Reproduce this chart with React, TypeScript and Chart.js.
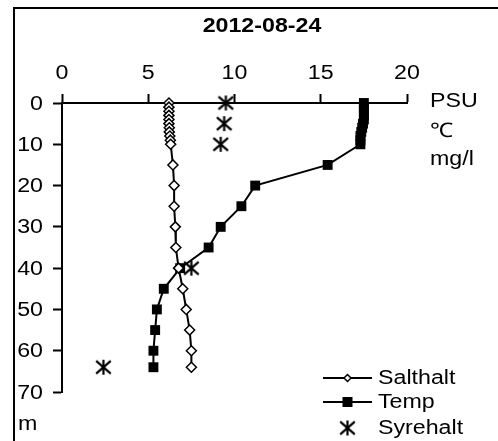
import React, { useEffect, useRef } from "react";
import { Chart, registerables } from "chart.js";

Chart.register(...registerables);

const TITLE = "2012-08-24";
const UNITS = ["PSU", "\u2103", "mg/l"];
const DEPTH_UNIT = "m";
const X_TICKS = [0, 5, 10, 15, 20];
const Y_TICKS = [0, 10, 20, 30, 40, 50, 60, 70];

const SERIES_NAMES = ["Salthalt", "Temp", "Syrehalt"];

const saltDepth = [0, 1, 2, 3, 4, 5, 6, 7, 8, 9, 10, 15, 20, 25, 30, 35, 40, 45, 50, 55, 60, 64];
const saltValues = [6.2, 6.2, 6.2, 6.2, 6.2, 6.2, 6.22, 6.22, 6.25, 6.28, 6.3, 6.43, 6.5, 6.5, 6.57, 6.6, 6.76, 7.0, 7.2, 7.4, 7.5, 7.5];

const tempDepth = [0, 1, 2, 3, 4, 5, 6, 7, 8, 9, 10, 15, 20, 25, 30, 35, 40, 45, 50, 55, 60, 64];
const tempValues = [17.5, 17.5, 17.5, 17.5, 17.5, 17.45, 17.4, 17.35, 17.3, 17.3, 17.3, 15.4, 11.2, 10.4, 9.2, 8.5, 6.85, 5.9, 5.5, 5.4, 5.3, 5.3];

const oxyDepth = [0, 5, 10, 40, 64];
const oxyValues = [9.5, 9.4, 9.2, 7.5, 2.4];

const FONT = '"Liberation Sans", Arial, sans-serif';
const SX = 1.16;

function makeAsterisk(): HTMLCanvasElement {
  const c = document.createElement("canvas");
  c.width = 17;
  c.height = 17;
  const g = c.getContext("2d")!;
  g.strokeStyle = "#000";
  g.lineWidth = 2.2;
  g.beginPath();
  g.moveTo(8.5, 1);
  g.lineTo(8.5, 16);
  g.moveTo(1.2, 2.2);
  g.lineTo(15.8, 14.8);
  g.moveTo(15.8, 2.2);
  g.lineTo(1.2, 14.8);
  g.stroke();
  return c;
}

function txt(ctx: CanvasRenderingContext2D, s: string, x: number, y: number, align: CanvasTextAlign) {
  ctx.save();
  ctx.translate(x, y);
  ctx.scale(SX, 1);
  ctx.textAlign = align;
  ctx.fillText(s, 0, 0);
  ctx.restore();
}

export default function App() {
  const ref = useRef<HTMLCanvasElement | null>(null);

  useEffect(() => {
    const canvas = ref.current!;
    const asterisk = makeAsterisk();

    const overlay = {
      id: "overlay",
      afterDraw(chart: any) {
        const ctx = chart.ctx as CanvasRenderingContext2D;
        const ca = chart.chartArea;
        const xs = chart.scales.x;
        const ys = chart.scales.y;
        ctx.save();
        // outer frame (top and left visible)
        ctx.strokeStyle = "#000";
        ctx.lineWidth = 2;
        ctx.beginPath();
        ctx.moveTo(14, 441);
        ctx.lineTo(14, 8);
        ctx.lineTo(498, 8);
        ctx.stroke();

        ctx.fillStyle = "#000";
        // title
        ctx.font = `bold 20px ${FONT}`;
        ctx.textBaseline = "middle";
        txt(ctx, TITLE, 262, 26, "center");

        // tick labels
        ctx.font = `20px ${FONT}`;
        X_TICKS.forEach((v) => txt(ctx, String(v), xs.getPixelForValue(v), ca.top - 30, "center"));
        Y_TICKS.forEach((v) => txt(ctx, String(v), ca.left - 19, ys.getPixelForValue(v) + 1, "right"));

        // units
        ctx.textBaseline = "alphabetic";
        const uy = [107, 137, 165];
        UNITS.forEach((u, i) => txt(ctx, u, 430, uy[i], "left"));
        txt(ctx, DEPTH_UNIT, 18, 430, "left");

        // legend
        const ly = [378, 402, 428];
        const x0 = 323, x1 = 372, xm = 347.5;
        ctx.textBaseline = "middle";
        SERIES_NAMES.forEach((name, i) => {
          const y = ly[i];
          if (i < 2) {
            ctx.lineWidth = 2;
            ctx.beginPath();
            ctx.moveTo(x0, y);
            ctx.lineTo(x1, y);
            ctx.stroke();
          }
          if (i === 0) {
            ctx.fillStyle = "#fff";
            ctx.lineWidth = 1.5;
            ctx.beginPath();
            ctx.moveTo(xm - 3.5, y);
            ctx.lineTo(xm, y - 3.5);
            ctx.lineTo(xm + 3.5, y);
            ctx.lineTo(xm, y + 3.5);
            ctx.closePath();
            ctx.fill();
            ctx.stroke();
          } else if (i === 1) {
            ctx.fillStyle = "#000";
            ctx.fillRect(xm - 5, y - 5, 10, 10);
          } else {
            ctx.drawImage(asterisk, xm - 8.5, y - 8.5);
          }
          ctx.fillStyle = "#000";
          ctx.font = `20px ${FONT}`;
          txt(ctx, name, 378, y, "left");
        });
        ctx.restore();
      },
    };

    const chart = new Chart(canvas, {
      type: "scatter",
      data: {
        datasets: [
          {
            label: SERIES_NAMES[0],
            data: saltDepth.map((d, i) => ({ x: saltValues[i], y: d })),
            showLine: true,
            borderColor: "#000",
            borderWidth: 2,
            pointStyle: "rectRot",
            pointRadius: 5,
            pointBorderWidth: 1.5,
            pointBackgroundColor: "#fff",
            pointBorderColor: "#000",
            clip: false as any,
          },
          {
            label: SERIES_NAMES[1],
            data: tempDepth.map((d, i) => ({ x: tempValues[i], y: d })),
            showLine: true,
            borderColor: "#000",
            borderWidth: 2,
            pointStyle: "rect",
            pointRadius: 7,
            pointBorderWidth: 0,
            pointBackgroundColor: "#000",
            pointBorderColor: "#000",
            clip: false as any,
          },
          {
            label: SERIES_NAMES[2],
            data: oxyDepth.map((d, i) => ({ x: oxyValues[i], y: d })),
            showLine: false,
            pointStyle: asterisk as any,
            pointRadius: 8,
            clip: false as any,
          },
        ],
      },
      options: {
        responsive: false,
        animation: false,
        layout: { padding: { left: 0, right: 91, top: 0, bottom: 49 } },
        plugins: {
          legend: { display: false },
          title: { display: false },
          tooltip: { enabled: false },
        },
        scales: {
          x: {
            type: "linear",
            position: "top",
            min: 0,
            max: 20,
            afterBuildTicks: (s: any) => {
              s.ticks = X_TICKS.map((v) => ({ value: v }));
            },
            afterFit: (s: any) => {
              s.height = 103;
            },
            ticks: { display: false },
            grid: {
              drawOnChartArea: false,
              drawTicks: true,
              tickLength: 9,
              tickWidth: 2,
              color: "#000",
            },
            border: { display: true, color: "#000", width: 2 },
          },
          y: {
            type: "linear",
            reverse: true,
            min: 0,
            max: 70,
            afterBuildTicks: (s: any) => {
              s.ticks = Y_TICKS.map((v) => ({ value: v }));
            },
            afterFit: (s: any) => {
              s.width = 62;
            },
            ticks: { display: false },
            grid: {
              drawOnChartArea: false,
              drawTicks: true,
              tickLength: 9,
              tickWidth: 2,
              color: "#000",
            },
            border: { display: true, color: "#000", width: 2 },
          },
        },
      },
      plugins: [overlay],
    });

    return () => chart.destroy();
  }, []);

  return (
    <div style={{ position: "absolute", left: 0, top: 0, width: 498, height: 441, background: "#fff" }}>
      <canvas ref={ref} width={498} height={441} style={{ display: "block" }} />
    </div>
  );
}
